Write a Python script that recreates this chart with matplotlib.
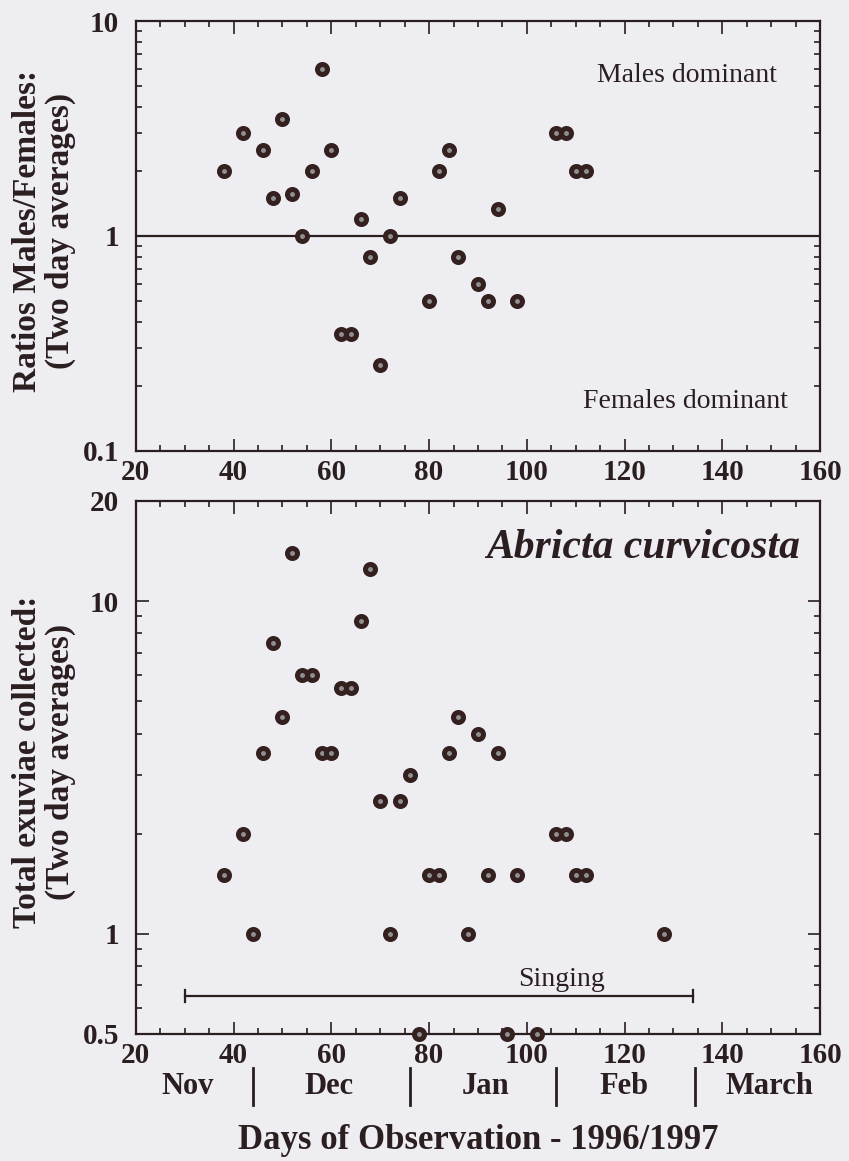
import numpy as np
import matplotlib
matplotlib.use("Agg")
import matplotlib.pyplot as plt
from matplotlib.ticker import FixedLocator, NullFormatter
import matplotlib.transforms as mtransforms

plt.rcParams['font.family'] = ['Liberation Serif', 'DejaVu Serif']

# ratio males/females (two day averages)
ratio_days = [38, 42, 46, 48, 50, 52, 54, 56, 58, 60, 62, 64, 66, 68, 70,
              72, 74, 80, 82, 84, 86, 90, 92, 94, 98, 106, 108, 110, 112]
ratio_vals = [2.0, 3.0, 2.5, 1.5, 3.5, 1.57, 1.0, 2.0, 6.0, 2.5, 0.35, 0.35, 1.2, 0.8, 0.25,
              1.0, 1.5, 0.5, 2.0, 2.5, 0.8, 0.6, 0.5, 1.33, 0.5, 3.0, 3.0, 2.0, 2.0]

# total exuviae collected (two day averages)
count_days = [38, 42, 44, 46, 48, 50, 52, 54, 56, 58, 60, 62, 64, 66, 68, 70, 72, 74,
              76, 78, 80, 82, 84, 86, 88, 90, 92, 94, 96, 98, 102, 106, 108, 110, 112, 128]
count_vals = [1.5, 2.0, 1.0, 3.5, 7.5, 4.5, 14.0, 6.0, 6.0, 3.5, 3.5, 5.5, 5.5, 8.7, 12.5, 2.5, 1.0, 2.5,
              3.0, 0.5, 1.5, 1.5, 3.5, 4.5, 1.0, 4.0, 1.5, 3.5, 0.5, 1.5, 0.5, 2.0, 2.0, 1.5, 1.5, 1.0]

singing_start, singing_end, singing_level = 30, 134, 0.65

months = ['Nov', 'Dec', 'Jan', 'Feb', 'March']
month_label_days = [30.5, 59.6, 91.6, 119.8, 149.7]
month_bounds = [44, 76, 106, 134.5]

x_ticks = [20, 40, 60, 80, 100, 120, 140, 160]

bg = '#eeedf1'
ink = '#2a1e20'
mk = dict(marker='o', ls='none', ms=7.2, mew=3.6, mfc='#8f8f92', mec='#33201f',
          clip_on=False, zorder=5)

fig = plt.figure(figsize=(8.49, 11.61), dpi=100, facecolor=bg)
ax1 = fig.add_axes([0.160, 0.6116, 0.806, 0.3703])
ax2 = fig.add_axes([0.160, 0.1094, 0.806, 0.4591])


def style(ax, yticks, ylabels, yminor):
    ax.set_facecolor(bg)
    ax.set_yscale('log')
    ax.set_xlim(20, 160)
    ax.xaxis.set_major_locator(FixedLocator(x_ticks))
    ax.set_xticklabels([str(t) for t in x_ticks])
    ax.xaxis.set_minor_locator(FixedLocator(np.arange(20, 161, 5)))
    ax.yaxis.set_major_locator(FixedLocator(yticks))
    ax.set_yticklabels(ylabels)
    ax.yaxis.set_minor_locator(FixedLocator(yminor))
    ax.yaxis.set_minor_formatter(NullFormatter())
    ax.tick_params(which='both', direction='in', top=True, right=True, color=ink, width=1.2)
    ax.tick_params(which='major', length=9)
    ax.tick_params(which='minor', length=4.5)
    ax.tick_params(axis='y', which='major', labelsize=21, pad=12, labelcolor=ink)
    ax.tick_params(axis='x', which='major', labelsize=21, pad=6, labelcolor=ink)
    for lab in ax.get_xticklabels() + ax.get_yticklabels():
        lab.set_fontweight('bold')
    for s in ax.spines.values():
        s.set_linewidth(1.6)
        s.set_color(ink)


# top panel: ratios
ax1.set_ylim(0.1, 10)
style(ax1, [0.1, 1, 10], ['0.1', '1', '10'],
      [0.2, 0.3, 0.4, 0.5, 0.6, 0.7, 0.8, 0.9, 2, 3, 4, 5, 6, 7, 8, 9])
ax1.axhline(1, color=ink, lw=1.6, zorder=2)
ax1.plot(ratio_days, ratio_vals, **mk)
ax1.text(0.937, 0.874, 'Males dominant', transform=ax1.transAxes, ha='right', va='center',
         fontsize=20, color=ink)
ax1.text(0.953, 0.114, 'Females dominant', transform=ax1.transAxes, ha='right', va='center',
         fontsize=20, color=ink)

# bottom panel: exuviae counts
ax2.set_ylim(0.5, 20)
style(ax2, [0.5, 1, 10, 20], ['0.5', '1', '10', '20'],
      [0.6, 0.7, 0.8, 0.9, 2, 3, 4, 5, 6, 7, 8, 9])
ax2.plot(count_days, count_vals, **mk)
ax2.text(0.971, 0.912, 'Abricta curvicosta', transform=ax2.transAxes, ha='right', va='center',
         fontsize=30, fontweight='bold', fontstyle='italic', color=ink)

ax2.plot([singing_start, singing_end], [singing_level, singing_level], color=ink, lw=1.6)
ax2.plot([singing_start, singing_start], [singing_level * 0.96, singing_level * 1.04], color=ink, lw=1.6)
ax2.plot([singing_end, singing_end], [singing_level * 0.96, singing_level * 1.04], color=ink, lw=1.6)
ax2.text(107, 0.73, 'Singing', ha='center', va='center', fontsize=20, color=ink)

# month strip below the x axis
trans = mtransforms.blended_transform_factory(ax2.transData, ax2.transAxes)
for name, d in zip(months, month_label_days):
    ax2.text(d, -0.099, name, transform=trans, ha='center', va='center',
             fontsize=22, fontweight='bold', color=ink)
for b in month_bounds:
    ax2.plot([b, b], [-0.064, -0.133], transform=trans, color=ink, lw=2, clip_on=False)

fig.text(0.563, 0.018, 'Days of Observation - 1996/1997', ha='center', va='center',
         fontsize=25, fontweight='bold', color=ink)
fig.text(0.052, 0.801, 'Ratios Males/Females:\n(Two day averages)', rotation=90,
         ha='center', va='center', multialignment='center', linespacing=1.05,
         fontsize=24, fontweight='bold', color=ink)
fig.text(0.052, 0.344, 'Total exuviae collected:\n(Two day averages)', rotation=90,
         ha='center', va='center', multialignment='center', linespacing=1.05,
         fontsize=24, fontweight='bold', color=ink)

fig.savefig('out.png', dpi=100, facecolor=bg)
